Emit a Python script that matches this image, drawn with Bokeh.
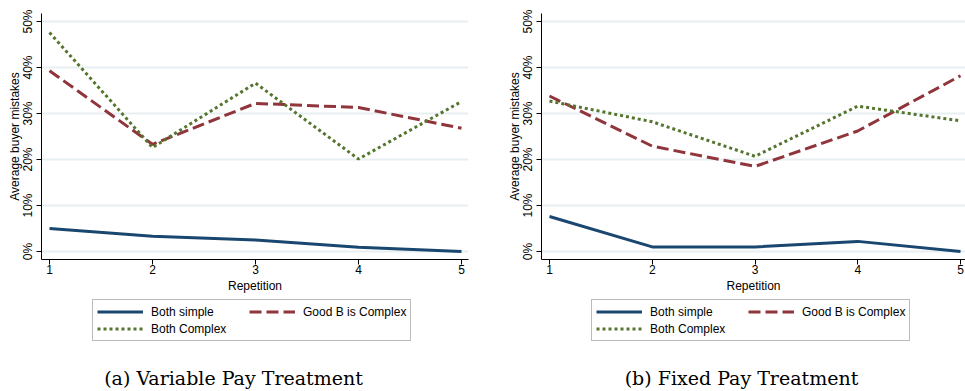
from bokeh.plotting import figure
from bokeh.models import (Range1d, FixedTicker, NumeralTickFormatter, Legend, LegendItem, Label)
from bokeh.layouts import row, column
from bokeh.embed import file_html
from bokeh.resources import INLINE

repetition = [1, 2, 3, 4, 5]

# Panel (a) Variable Pay Treatment
simple_a = [0.050, 0.033, 0.025, 0.009, 0.000]
goodb_a = [0.393, 0.233, 0.322, 0.313, 0.268]
complex_a = [0.476, 0.226, 0.366, 0.201, 0.326]

# Panel (b) Fixed Pay Treatment
simple_b = [0.076, 0.010, 0.010, 0.022, 0.000]
goodb_b = [0.338, 0.229, 0.185, 0.262, 0.382]
complex_b = [0.327, 0.282, 0.207, 0.316, 0.284]

series_labels = ["Both simple", "Good B is Complex", "Both Complex"]
y_ticks = [0.0, 0.1, 0.2, 0.3, 0.4, 0.5]
captions = ["(a) Variable Pay Treatment", "(b) Fixed Pay Treatment"]

NAVY = "#1a476f"
MAROON = "#90353b"
GREEN = "#55752f"
GRID = "#e8eff2"
SANS = "Liberation Sans"
STYLES = [dict(line_color=NAVY, line_width=3),
          dict(line_color=MAROON, line_width=3, line_dash="12 5"),
          dict(line_color=GREEN, line_width=3, line_dash="3 3")]


def make_panel(simple, goodb, cmplx, border_left, frame_w, border_right, x_start, x_end):
    p = figure(frame_width=frame_w, frame_height=246,
               min_border_left=border_left, min_border_right=border_right,
               min_border_top=13, min_border_bottom=37,
               x_range=Range1d(x_start, x_end),
               y_range=Range1d(-0.01739, 0.51739),
               output_backend="svg", toolbar_location=None,
               background_fill_color="white", border_fill_color="white")
    p.outline_line_color = None

    p.xaxis.ticker = FixedTicker(ticks=repetition)
    p.yaxis.ticker = FixedTicker(ticks=y_ticks)
    p.yaxis.formatter = NumeralTickFormatter(format="0%")
    for ax in (p.xaxis[0], p.yaxis[0]):
        ax.axis_line_color = "black"
        ax.axis_line_width = 1
        ax.major_tick_line_color = "black"
        ax.major_tick_out = 5
        ax.major_tick_in = 0
        ax.minor_tick_line_color = None
        ax.major_label_text_font = SANS
        ax.major_label_text_font_size = "12px"
        ax.major_label_text_color = "black"
        ax.axis_label_text_font = SANS
        ax.axis_label_text_font_size = "12px"
        ax.axis_label_text_font_style = "normal"
        ax.axis_label_text_color = "black"
    p.xaxis.axis_label = "Repetition"
    p.xaxis.major_label_standoff = 0
    p.xaxis.axis_label_standoff = 2
    p.yaxis.axis_label = "Average buyer mistakes"
    p.yaxis.major_label_orientation = "vertical"
    p.yaxis.major_label_standoff = 1
    p.yaxis.axis_label_standoff = -3

    p.xgrid.grid_line_color = None
    p.ygrid.grid_line_color = GRID
    p.ygrid.grid_line_width = 2

    for ys, st in zip([simple, goodb, cmplx], STYLES):
        p.line(repetition, ys, **st)
    return p


pa = make_panel(simple_a, goodb_a, complex_a, 41, 427, 14, 0.9223, 5.068)
pb = make_panel(simple_b, goodb_b, complex_b, 59, 424, 0, 0.9221, 5.0487)

# Bottom strip: legends and sub-captions (ranges in pixels)
BOTTOM_H = 95
bottom = figure(width=965, height=BOTTOM_H, x_range=Range1d(0, 965),
                y_range=Range1d(0, BOTTOM_H), x_axis_type=None, y_axis_type=None,
                min_border=0, output_backend="svg", toolbar_location=None,
                background_fill_color="white", border_fill_color="white")
bottom.outline_line_color = None
bottom.xgrid.grid_line_color = None
bottom.ygrid.grid_line_color = None
# legend keys: the series drawn on an off-screen range, so only their legend samples show
bottom.extra_y_ranges = {"offscreen": Range1d(10, 11)}
legend_keys = [bottom.line(repetition, ys, y_range_name="offscreen", **st)
               for ys, st in zip([simple_a, goodb_a, complex_a], STYLES)]

for lx in (92, 591):
    legend = Legend(items=[LegendItem(label=lab, renderers=[r])
                           for lab, r in zip(series_labels, legend_keys)],
                    orientation="horizontal", ncols=2, location=(lx, 50),
                    glyph_width=46, glyph_height=15, label_standoff=8,
                    label_width=96, spacing=2, padding=4, margin=0,
                    border_line_color="#777777", border_line_width=1,
                    label_text_font=SANS, label_text_font_size="12px",
                    label_text_color="black", background_fill_color="white",
                    background_fill_alpha=1)
    bottom.add_layout(legend, "center")

for cx, cap in zip((233, 741), captions):
    bottom.add_layout(Label(x=cx, y=14, text=cap, text_align="center",
                            text_baseline="middle", text_font="DejaVu Serif",
                            text_font_size="19px", text_color="black"))

layout = column(row(pa, pb, spacing=0), bottom, spacing=0)
open("out.html", "w").write(file_html(layout, INLINE))
